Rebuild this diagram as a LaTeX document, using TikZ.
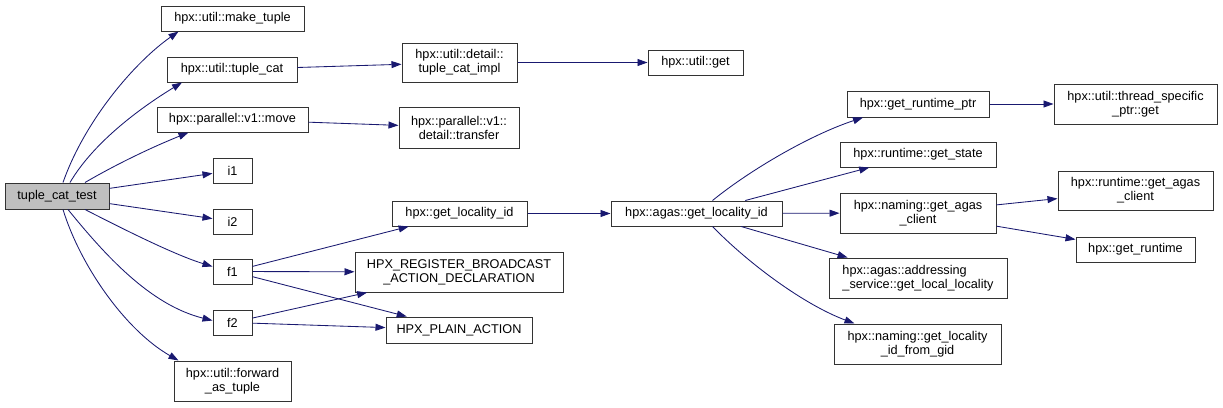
\documentclass[tikz,border=0pt]{standalone}
\usepackage{fontspec}
\setmainfont{Liberation Sans}
\usetikzlibrary{arrows.meta}
\definecolor{edgeblue}{HTML}{191970}
\definecolor{boxline}{HTML}{333333}
\definecolor{graybox}{HTML}{BFBFBF}
\begin{document}
\begin{tikzpicture}[x=1pt,y=-1pt,
  box/.style={draw=boxline, fill=white, line width=1pt, inner sep=0pt,
    font=\fontsize{12.7}{14}\selectfont, align=center},
  sz/.style 2 args={minimum width=#1pt, minimum height=#2pt},
  edge/.style={draw=edgeblue, line width=0.85pt,
    -{Triangle[length=10pt,width=7pt]}, fill=none}]
\useasboundingbox (0,0) rectangle (1223,407);
% nodes
\node[box, fill=graybox, sz={104}{26}] (test) at (57,196) {tuple\_cat\_test};
\node[box, sz={143}{25}] (make) at (232.5,18.5) {hpx::util::make\_tuple};
\node[box, sz={130}{25}] (tcat) at (232,69.5) {hpx::util::tuple\_cat};
\node[box, sz={151}{25}] (move) at (232.5,119.5) {hpx::parallel::v1::move};
\node[box, sz={39}{25}] (i1) at (232.5,170.5) {i1};
\node[box, sz={39}{25}] (i2) at (232.5,221.5) {i2};
\node[box, sz={39}{25}] (f1) at (232.5,271.5) {f1};
\node[box, sz={39}{25}] (f2) at (232.5,322.5) {f2};
\node[box, sz={117}{40}] (fwd) at (232.5,381) {hpx::util::forward\\\_as\_tuple};
\node[box, sz={115}{39}] (impl) at (459.5,62.5) {hpx::util::detail::\\tuple\_cat\_impl};
\node[box, sz={120}{41}] (transfer) at (459,127.5) {hpx::parallel::v1::\\detail::transfer};
\node[box, sz={135}{25}] (gli) at (459.5,213.5) {hpx::get\_locality\_id};
\node[box, sz={208}{40}] (reg) at (459,272) {HPX\_REGISTER\_BROADCAST\\\_ACTION\_DECLARATION};
\node[box, sz={146}{26}] (plain) at (459,330) {HPX\_PLAIN\_ACTION};
\node[box, sz={95}{25}] (uget) at (695.5,62.5) {hpx::util::get};
\node[box, sz={171}{25}] (agli) at (696.5,213.5) {hpx::agas::get\_locality\_id};
\node[box, sz={142}{26}] (grp) at (918,104) {hpx::get\_runtime\_ptr};
\node[box, sz={156}{25}] (gstate) at (918,154.5) {hpx::runtime::get\_state};
\node[box, sz={156}{40}] (gac) at (918,213) {hpx::naming::get\_agas\\\_client};
\node[box, sz={178}{40}, align=left] (addr) at (918,278) {hpx::agas::addressing\\\_service::get\_local\_locality};
\node[box, sz={167}{40}] (gfg) at (917.5,344) {hpx::naming::get\_locality\\\_id\_from\_gid};
\node[box, sz={163}{40}] (tsp) at (1135.5,104) {hpx::util::thread\_specific\\\_ptr::get};
\node[box, sz={155}{39}] (rgac) at (1135.5,190.5) {hpx::runtime::get\_agas\\\_client};
\node[box, sz={119}{25}] (grt) at (1135.5,249.5) {hpx::get\_runtime};
% edges from test
\draw[edge] ([xshift=6pt]test.north) .. controls (85,120) and (135,62) .. ([xshift=-54pt]make.south);
\draw[edge] ([xshift=13pt]test.north) .. controls (95,140) and (145,105) .. ([xshift=-50pt]tcat.south);
\draw[edge] ([xshift=28pt]test.north) .. controls (115,165) and (150,148) .. ([xshift=-44pt]move.south);
\draw[edge] (test) -- (i1);
\draw[edge] (test) -- (i2);
\draw[edge] ([xshift=28pt]test.south) .. controls (125,230) and (175,255) .. ([yshift=5pt]f1.west);
\draw[edge] ([xshift=11pt]test.south) .. controls (105,255) and (150,305) .. ([yshift=2pt]f2.west);
\draw[edge] ([xshift=6pt]test.south) .. controls (80,265) and (125,330) .. ([xshift=-54pt]fwd.north);
% second level
\draw[edge] (tcat) -- (impl);
\draw[edge] (move) -- (transfer);
\draw[edge] (impl) -- (uget);
\draw[edge] (f1) -- (gli);
\draw[edge] (f1) -- (reg);
\draw[edge] (f1) -- (plain);
\draw[edge] (f2) -- (reg);
\draw[edge] (f2) -- (plain);
\draw[edge] (gli) -- (agli);
% agas level
\draw[edge] ([xshift=16pt]agli.north) .. controls (750,170) and (810,135) .. ([xshift=-55pt]grp.south);
\draw[edge] (agli) -- (gstate);
\draw[edge] (agli) -- (gac);
\draw[edge] (agli) -- (addr);
\draw[edge] ([xshift=16pt]agli.south) .. controls (750,265) and (805,305) .. ([xshift=-63pt]gfg.north);
\draw[edge] (grp) -- (tsp);
\draw[edge] (gac) -- (rgac);
\draw[edge] (gac) -- (grt);
\end{tikzpicture}
\end{document}
